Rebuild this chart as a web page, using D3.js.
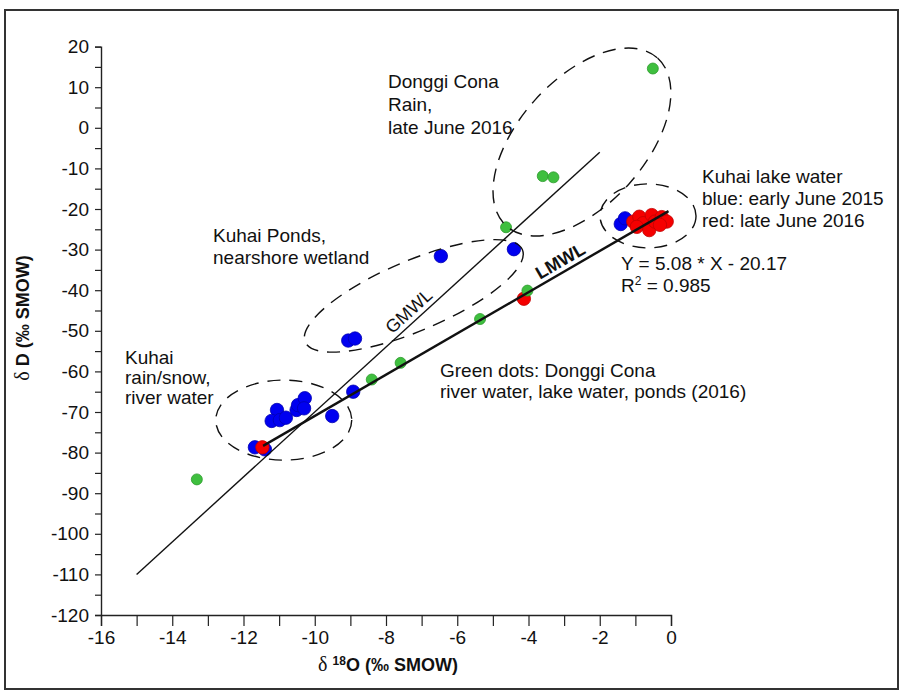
<!DOCTYPE html>
<html>
<head>
<meta charset="utf-8">
<script src="https://cdn.jsdelivr.net/npm/d3@7"></script>
<style>
  body { margin: 0; background: #fff; }
  svg { display: block; }
  text { font-family: "Liberation Sans", Arial, sans-serif; fill: #111; }
</style>
</head>
<body>
<svg id="chart" width="904" height="693"></svg>
<script>
// ---- tick values ----
const xTickValues = d3.range(-16, 1, 1);
const xTickLabels = [-16, -14, -12, -10, -8, -6, -4, -2, 0];
const yTickValues = d3.range(-120, 21, 5);
const yTickLabels = [-120, -110, -100, -90, -80, -70, -60, -50, -40, -30, -20, -10, 0, 10, 20];

// ---- samples: δ18O (x) and δD (y), per‰ SMOW ----
// blue: Kuhai samples (rain/snow, river, ponds, early-June-2015 lake water)
const blueO = [-11.68, -11.40, -11.06, -11.21, -10.98, -10.81, -10.51, -10.47, -10.28, -10.30, -9.51, -8.92, -9.06, -8.87, -6.46, -4.41, -1.41, -1.29];
const blueD = [-78.7, -79.2, -69.5, -72.2, -72.0, -71.4, -69.5, -68.3, -66.6, -69.1, -71.0, -65.0, -52.4, -51.9, -31.6, -29.9, -23.7, -22.3];
// red: late June 2016 Kuhai samples
const redO = [-11.47, -4.13, -1.06, -0.89, -0.78, -0.96, -0.54, -0.61, -0.45, -0.26, -0.12, -0.31];
const redD = [-78.7, -42.1, -23.1, -21.9, -23.5, -24.4, -21.5, -25.2, -23.1, -22.0, -23.1, -23.9];
// green: Donggi Cona samples (2016)
const greenO = [-13.31, -8.40, -7.59, -5.36, -4.03, -4.63, -3.60, -3.30, -0.51];
const greenD = [-86.6, -62.0, -57.9, -47.1, -40.1, -24.5, -11.9, -12.2, 14.6];

// meteoric water lines
const gmwlSlope = 8, gmwlIntercept = 10, gmwlRange = [-15, -2];
const lmwlSlope = 5.08, lmwlIntercept = -20.17, lmwlRange = [-11.45, -0.07];

// ---- layout ----
const svg = d3.select("#chart");
const x = d3.scaleLinear().domain([-16, 0]).range([101, 671]);
const y = d3.scaleLinear().domain([-120, 20]).range([615, 46.6]);

// outer frame
svg.append("rect")
  .attr("x", 5).attr("y", 10).attr("width", 893).attr("height", 679)
  .attr("fill", "none").attr("stroke", "#333").attr("stroke-width", 2);

// axes
const xAxis = d3.axisBottom(x)
  .tickValues(xTickValues)
  .tickSize(11).tickPadding(5)
  .tickFormat(d => xTickLabels.includes(d) ? String(d) : "");
const yAxis = d3.axisLeft(y)
  .tickValues(yTickValues)
  .tickSize(6).tickPadding(6)
  .tickFormat(d => yTickLabels.includes(d) ? String(d) : "");

const gx = svg.append("g").attr("transform", `translate(0,${y(-120)})`).call(xAxis);
const gy = svg.append("g").attr("transform", `translate(${x(-16)},0)`).call(yAxis);
[gx, gy].forEach(g => {
  g.select(".domain").attr("stroke", "#222").attr("stroke-width", 1.4);
  g.selectAll(".tick line").attr("stroke", "#222").attr("stroke-width", 1.2);
  g.selectAll(".tick text").attr("font-size", 19).attr("fill", "#111")
    .attr("font-family", '"Liberation Sans", Arial, sans-serif');
});

// axis titles
const xTitle = svg.append("text")
  .attr("x", (x(-16) + x(0)) / 2 + 2).attr("y", 671)
  .attr("text-anchor", "middle").attr("font-size", 18).attr("font-weight", "bold");
xTitle.append("tspan").attr("font-family", '"Liberation Serif", serif').attr("font-weight", "normal").attr("font-size", 20).text("δ ");
xTitle.append("tspan").attr("font-size", 12).attr("dy", -6).text("18");
xTitle.append("tspan").attr("dy", 6).text("O (‰ SMOW)");

const yTitle = svg.append("text")
  .attr("transform", `translate(29,318) rotate(-90)`)
  .attr("text-anchor", "middle").attr("font-size", 18).attr("font-weight", "bold");
yTitle.append("tspan").attr("font-family", '"Liberation Serif", serif').attr("font-weight", "normal").attr("font-size", 20).text("δ ");
yTitle.append("tspan").text("D (‰ SMOW)");

// points
function drawPoints(xs, ys, r, fill, stroke) {
  svg.append("g").selectAll("circle")
    .data(xs.map((v, i) => [v, ys[i]]))
    .join("circle")
    .attr("cx", d => x(d[0])).attr("cy", d => y(d[1])).attr("r", r)
    .attr("fill", fill).attr("stroke", stroke).attr("stroke-width", 0.8);
}
drawPoints(blueO, blueD, 6.7, "#0000f0", "#0000b0");
drawPoints(redO, redD, 6.7, "#f50000", "#c00000");
drawPoints(greenO, greenD, 5.5, "#3fbf3f", "#2c9a2c");

// meteoric water lines
function drawLine(slope, intercept, range, width) {
  svg.append("line")
    .attr("x1", x(range[0])).attr("y1", y(slope * range[0] + intercept))
    .attr("x2", x(range[1])).attr("y2", y(slope * range[1] + intercept))
    .attr("stroke", "#111").attr("stroke-width", width);
}
drawLine(gmwlSlope, gmwlIntercept, gmwlRange, 1.4);
drawLine(lmwlSlope, lmwlIntercept, lmwlRange, 2.4);

// line labels, set parallel to each line
function lineLabel(txt, slope, intercept, at, offset, bold) {
  const px = x(at), py = y(slope * at + intercept);
  const ang = Math.atan2(y(slope * (at + 1) + intercept) - py, x(at + 1) - px);
  const nx = Math.sin(ang), ny = -Math.cos(ang);
  svg.append("text")
    .attr("transform", `translate(${px + nx * offset},${py + ny * offset}) rotate(${ang * 180 / Math.PI})`)
    .attr("text-anchor", "middle").attr("font-size", 18)
    .attr("font-weight", bold ? "bold" : "normal")
    .text(txt);
}
lineLabel("GMWL", gmwlSlope, gmwlIntercept, -7.15, 5, false);
lineLabel("LMWL", lmwlSlope, lmwlIntercept, -2.95, 5, true);

// dashed grouping ellipses (centre in data units, radii in px, screen rotation in deg)
const groups = [
  { cx: -10.87, cy: -72.0, rx: 68, ry: 40, rot: 0 },
  { cx: -7.22, cy: -41.4, rx: 118, ry: 35, rot: -23 },
  { cx: -2.50, cy: -3.5, rx: 113, ry: 63, rot: -48 },
  { cx: -0.645, cy: -21.7, rx: 48, ry: 32, rot: 0 }
];
svg.append("g").selectAll("ellipse")
  .data(groups)
  .join("ellipse")
  .attr("transform", d => `translate(${x(d.cx)},${y(d.cy)}) rotate(${d.rot})`)
  .attr("rx", d => d.rx).attr("ry", d => d.ry)
  .attr("fill", "none").attr("stroke", "#111").attr("stroke-width", 1.4)
  .attr("stroke-dasharray", "13,9");

// annotations
const notes = [
  { x: 388, y: 88, lines: ["Donggi Cona", "Rain,", "late June 2016"], lh: 23 },
  { x: 213, y: 242, lines: ["Kuhai Ponds,", "nearshore wetland"], lh: 22 },
  { x: 125, y: 364, lines: ["Kuhai", "rain/snow,", "river water"], lh: 20 },
  { x: 440, y: 377, lines: ["Green dots: Donggi Cona", "river water, lake water, ponds (2016)"], lh: 21 },
  { x: 702, y: 183, lines: ["Kuhai lake water", "blue: early June 2015", "red: late June 2016"], lh: 22 },
  { x: 621, y: 270, lines: ["Y = 5.08 * X - 20.17"], lh: 20 }
];
notes.forEach(n => {
  const t = svg.append("text").attr("x", n.x).attr("y", n.y).attr("font-size", 19);
  n.lines.forEach((s, i) => t.append("tspan").attr("x", n.x).attr("dy", i === 0 ? 0 : n.lh).text(s));
});
const r2 = svg.append("text").attr("x", 621).attr("y", 292).attr("font-size", 19);
r2.append("tspan").text("R");
r2.append("tspan").attr("font-size", 12).attr("dy", -7).text("2");
r2.append("tspan").attr("dy", 7).text(" = 0.985");
</script>
</body>
</html>
